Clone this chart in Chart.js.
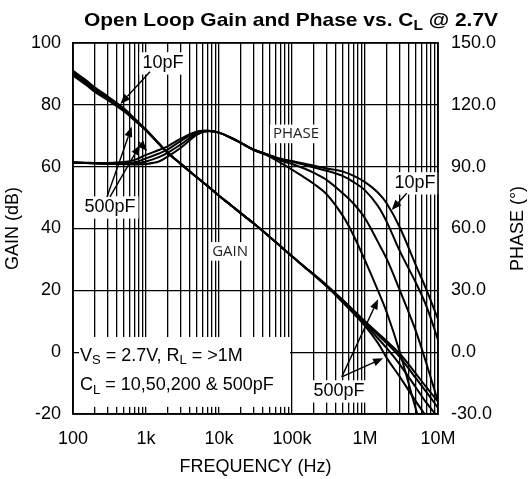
<!DOCTYPE html>
<html><head><meta charset="utf-8">
<script src="https://cdn.jsdelivr.net/npm/chart.js@4"></script>
<style>html,body{margin:0;padding:0;background:#fff;}#wrap{width:531px;height:479px;}</style>
</head><body><div id="wrap"><canvas id="c" width="531" height="479"></canvas></div>
<script>
// ---------- DATA ----------
const freqs = [100,150,200,300,500,700,1e3,1.5e3,2e3,3e3,5e3,7e3,1e4,1.5e4,2e4,3e4,5e4,7e4,1e5,1.5e5,2e5,3e5,5e5,7e5,1e6,1.5e6,2e6,3e6,5e6,7e6,1e7];
const gain10  = [91.0,88.0,85.6,82.7,78.8,75.5,72.0,67.5,64.4,60.9,56.5,53.7,50.6,47.3,44.9,41.6,37.2,34.2,31.0,27.5,25.1,21.6,16.8,13.5,10.0,6.2,3.5,-0.5,-7.0,-11.5,-16.0];
const gain50  = [90.5,87.5,85.1,82.3,78.5,75.3,71.9,67.5,64.4,60.9,56.5,53.7,50.6,47.3,44.9,41.6,37.2,34.2,31.0,27.5,25.1,21.5,16.7,13.3,9.7,5.6,2.8,-1.6,-8.5,-13.0,-18.0];
const gain200 = [90.0,87.0,84.7,81.9,78.2,75.1,71.8,67.4,64.4,60.9,56.5,53.7,50.6,47.3,44.9,41.6,37.2,34.2,31.0,27.5,25.0,21.4,16.4,13.0,9.2,4.5,1.2,-4.0,-11.5,-16.5,-21.0];
const gain500 = [89.5,86.5,84.2,81.5,77.9,74.9,71.7,67.4,64.4,60.9,56.5,53.7,50.6,47.3,44.9,41.6,37.2,34.2,31.0,27.4,24.9,21.2,16.0,12.5,8.5,3.0,-2.0,-8.0,-16.0,-21.0,-26.0];
const phase10  = [92.0,91.8,91.6,91.4,91.2,91.1,91.3,92.5,95.0,99.2,105.5,107.2,106.5,103.8,101.5,98.2,95.5,93.8,92.7,91.4,90.4,89.1,87.6,85.5,82.5,77.5,72.0,60.5,42.0,30.0,16.0];
const phase50  = [92.0,91.8,91.6,91.4,91.3,91.5,92.5,94.6,96.8,100.8,106.3,107.4,106.5,103.8,101.5,98.2,95.5,93.6,92.4,90.8,89.6,88.0,85.4,82.5,78.5,71.0,63.0,49.0,33.5,22.0,6.0];
const phase200 = [92.0,91.8,91.7,91.5,91.6,92.1,94.0,96.4,98.4,102.5,106.8,107.4,106.5,103.8,101.5,98.2,95.4,93.0,91.3,89.0,87.0,83.5,77.0,72.0,65.0,53.5,45.0,30.0,10.0,-6.0,-24.0];
const phase500 = [92.0,91.9,91.8,91.8,92.3,93.3,95.7,98.1,100.0,103.6,107.1,107.4,106.5,103.8,101.4,98.0,94.8,91.8,88.5,84.6,81.6,76.5,66.0,56.5,44.5,30.0,19.0,0.0,-28.0,-45.0,-65.0];

const xDecades = [1e2,1e3,1e4,1e5,1e6,1e7];
const xTickLabels = ['100','1k','10k','100k','1M','10M'];
const xMinorSteps = [1,2,3,4,5,6,7,8,9];
const gainTicks = [-20,0,20,40,60,80,100];
const phaseTicks = [-30,0,30,60,90,120,150];

// ---------- ANNOTATIONS (data coords: frequency, gain-axis value) ----------
const FONT = '"Liberation Sans", Arial, sans-serif';
const LFONT = '"Open Sans", sans-serif';
const labels = [
  {parts:[{t:'10pF'}], f:1710, g:93.4, font:FONT, size:18},
  {parts:[{t:'500pF'}], f:321, g:46.8, font:FONT, size:18},
  {parts:[{t:'PHASE'}], f:113500, g:70.6, font:LFONT, size:15},
  {parts:[{t:'GAIN'}], f:14200, g:32.6, font:LFONT, size:15},
  {parts:[{t:'10pF'}], f:4.84e6, g:54.6, font:FONT, size:18},
  {parts:[{t:'500pF'}], f:440000, g:-12.7, font:FONT, size:18}
];
const infoBox = {f0:120.8, f1:93900, g0:4.9, g1:-17.7};
const infoLines = [
  {parts:[{t:'V'},{t:'S',sub:true},{t:' = 2.7V, R'},{t:'L',sub:true},{t:' = >1M'}], f:124.7, g:-1.2},
  {parts:[{t:'C'},{t:'L',sub:true},{t:' = 10,50,200 & 500pF'}], f:124.7, g:-10.6}
];
const arrows = [
  {f0:1134, g0:90.7, f1:447, g1:80.3},
  {f0:292, g0:50.2, f1:637, g1:72.9},
  {f0:321, g0:50.2, f1:828, g1:67.0},
  {f0:800, g0:68.0, f1:1033, g1:65.1},
  {f0:3.73e6, g0:51.4, f1:2.32e6, g1:46.0},
  {f0:480000, g0:-8.0, f1:1.51e6, g1:17.1},
  {f0:480000, g0:-8.0, f1:1.77e6, g1:-2.0}
];

function series(vals){ return freqs.map((f,i)=>({x:f, y:vals[i]})); }
const lineStyle = {borderColor:'#000', borderWidth:2, pointRadius:0, fill:false, tension:0.35};
const datasets = [
  {label:'Gain 10pF', data:series(gain10), yAxisID:'y', ...lineStyle},
  {label:'Gain 50pF', data:series(gain50), yAxisID:'y', ...lineStyle},
  {label:'Gain 200pF', data:series(gain200), yAxisID:'y', ...lineStyle},
  {label:'Gain 500pF', data:series(gain500), yAxisID:'y', ...lineStyle},
  {label:'Phase 10pF', data:series(phase10), yAxisID:'y2', ...lineStyle},
  {label:'Phase 50pF', data:series(phase50), yAxisID:'y2', ...lineStyle},
  {label:'Phase 200pF', data:series(phase200), yAxisID:'y2', ...lineStyle},
  {label:'Phase 500pF', data:series(phase500), yAxisID:'y2', ...lineStyle}
];

const xGrid = [];
xDecades.slice(0,-1).forEach(d => xMinorSteps.forEach(m => xGrid.push(d*m)));
xGrid.push(xDecades[xDecades.length-1]);

function richWidth(ctx, parts, size, font, bold){
  let w=0;
  parts.forEach(p=>{ ctx.font=(bold?'bold ':'')+(p.sub?Math.round(size*0.72):size)+'px '+font; w+=ctx.measureText(p.t).width; });
  return w;
}
function drawRich(ctx, parts, x, y, size, font, bold){
  let cx=x;
  ctx.textBaseline='middle'; ctx.textAlign='left';
  parts.forEach(p=>{
    const s = p.sub?Math.round(size*0.72):size;
    ctx.font=(bold?'bold ':'')+s+'px '+font;
    ctx.fillText(p.t, cx, p.sub? y+size*0.28 : y);
    cx+=ctx.measureText(p.t).width;
  });
}

const annot = {
  id:'annot',
  beforeDatasetsDraw(chart){
    const {ctx, scales:{x, y}} = chart;
    ctx.save();
    ctx.fillStyle='#fff';
    const bx0=x.getPixelForValue(infoBox.f0), bx1=x.getPixelForValue(infoBox.f1);
    const by0=y.getPixelForValue(infoBox.g0), by1=y.getPixelForValue(infoBox.g1);
    ctx.fillRect(bx0, by0, bx1-bx0, by1-by0);
    ctx.fillStyle='#000';
    infoLines.forEach(l=>drawRich(ctx, l.parts, x.getPixelForValue(l.f), y.getPixelForValue(l.g), 18, FONT, false));
    labels.forEach(l=>{
      const w=richWidth(ctx,l.parts,l.size,l.font,false);
      const cx=x.getPixelForValue(l.f), cy=y.getPixelForValue(l.g);
      ctx.fillStyle='#fff';
      ctx.fillRect(cx-w/2-3, cy-l.size*0.62, w+6, l.size*1.24);
      ctx.fillStyle= l.size<16 ? '#222' : '#000';
      drawRich(ctx,l.parts,cx-w/2,cy,l.size,l.font,false);
    });
    ctx.restore();
  },
  afterDatasetsDraw(chart){
    const {ctx, chartArea:a, scales:{x, y}} = chart;
    ctx.save();
    ctx.strokeStyle='#000'; ctx.fillStyle='#000'; ctx.lineWidth=1.4;
    arrows.forEach(ar=>{
      const x0=x.getPixelForValue(ar.f0), y0=y.getPixelForValue(ar.g0);
      const x1=x.getPixelForValue(ar.f1), y1=y.getPixelForValue(ar.g1);
      const ang=Math.atan2(y1-y0,x1-x0), L=10, W=4;
      const bxp=x1-L*Math.cos(ang), byp=y1-L*Math.sin(ang);
      ctx.beginPath(); ctx.moveTo(x0,y0); ctx.lineTo(bxp,byp); ctx.stroke();
      ctx.beginPath(); ctx.moveTo(x1,y1);
      ctx.lineTo(bxp+W*Math.sin(ang), byp-W*Math.cos(ang));
      ctx.lineTo(bxp-W*Math.sin(ang), byp+W*Math.cos(ang));
      ctx.closePath(); ctx.fill();
    });
    ctx.lineWidth=1.5;
    ctx.strokeRect(a.left, a.top, a.right-a.left, a.bottom-a.top);
    ctx.restore();
  },
  afterDraw(chart){
    const {ctx, chartArea:a} = chart;
    ctx.save(); ctx.fillStyle='#000';
    const tparts=[{t:'Open Loop Gain and Phase vs. C'},{t:'L',sub:true},{t:' @ 2.7V'}];
    const tw=richWidth(ctx,tparts,19,FONT,true);
    const target=414, sx=target/tw;
    ctx.save(); ctx.translate(291-target/2, 21); ctx.scale(sx,1);
    drawRich(ctx,tparts,0,0,19,FONT,true);
    ctx.restore();
    ctx.font='18px '+FONT; ctx.textAlign='center'; ctx.textBaseline='middle';
    ctx.fillText('FREQUENCY (Hz)', (a.left+a.right)/2, 467);
    ctx.save(); ctx.translate(13,(a.top+a.bottom)/2); ctx.rotate(-Math.PI/2); ctx.fillText('GAIN (dB)',0,0); ctx.restore();
    ctx.save(); ctx.translate(518,(a.top+a.bottom)/2); ctx.rotate(-Math.PI/2); ctx.fillText('PHASE (°)',0,0); ctx.restore();
    ctx.restore();
  }
};

new Chart(document.getElementById('c'), {
  type:'line',
  data:{datasets},
  options:{
    responsive:false, animation:false, devicePixelRatio:1,
    layout:{padding:{top:43,left:0,right:0,bottom:0}},
    plugins:{legend:{display:false}, title:{display:false}, tooltip:{enabled:false}},
    scales:{
      x:{type:'logarithmic', position:'bottom', min:100, max:1e7,
        afterBuildTicks:s=>{ s.ticks = xGrid.map(v=>({value:v})); },
        afterFit:s=>{ s.height=65; },
        ticks:{autoSkip:false, maxRotation:0, color:'#000', padding:14, font:{family:FONT, size:18},
          callback:(v)=>{ const i=xDecades.indexOf(v); return i>=0 ? xTickLabels[i] : ''; }},
        grid:{color:'#000', lineWidth:1.3, drawTicks:false},
        border:{color:'#000', width:1.5}},
      y:{type:'linear', position:'left', min:-20, max:100,
        afterBuildTicks:s=>{ s.ticks = gainTicks.map(v=>({value:v})); },
        afterFit:s=>{ s.width=73; },
        ticks:{color:'#000', padding:12, font:{family:FONT, size:18}, callback:v=>String(v)},
        grid:{color:'#000', lineWidth:1.3, drawTicks:false},
        border:{color:'#000', width:1.5}},
      y2:{type:'linear', position:'right', min:-30, max:150,
        afterBuildTicks:s=>{ s.ticks = phaseTicks.map(v=>({value:v})); },
        afterFit:s=>{ s.width=93; },
        ticks:{color:'#000', padding:13, font:{family:FONT, size:18}, callback:v=>Number(v).toFixed(1)},
        grid:{drawOnChartArea:false, drawTicks:false},
        border:{color:'#000', width:1.5}}
    }
  },
  plugins:[annot]
});
</script></body></html>
